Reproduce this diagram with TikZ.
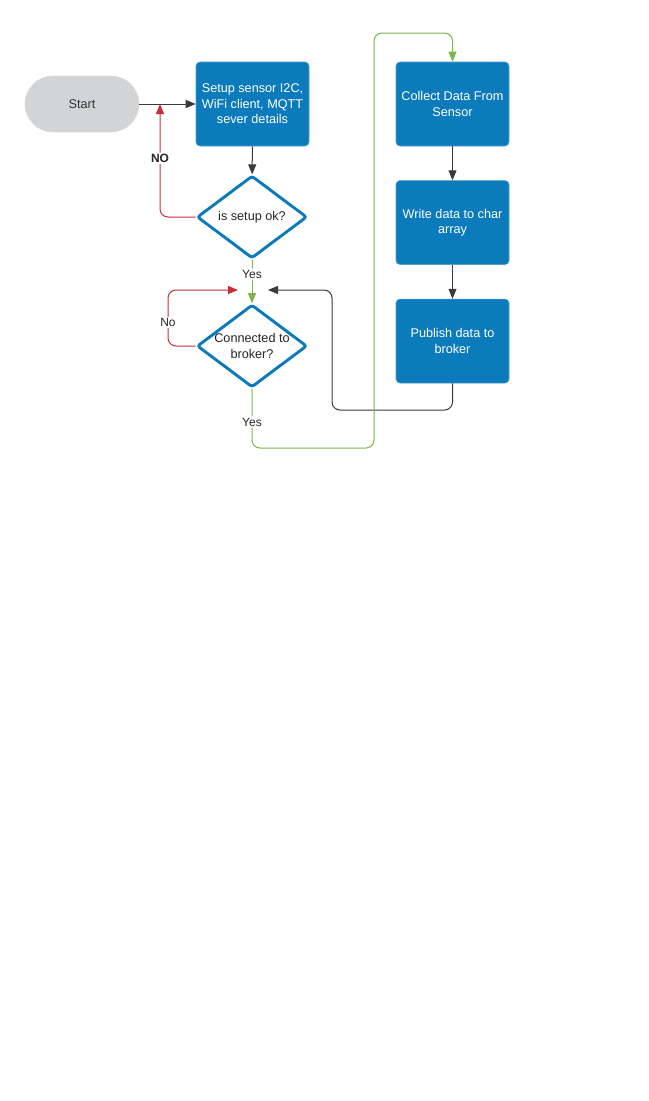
\documentclass[tikz,border=0pt]{standalone}
\usepackage{fontspec}
\setmainfont{Liberation Sans}
\usetikzlibrary{arrows.meta,positioning,shapes.geometric}
\definecolor{boxblue}{HTML}{0C7BBB}
\definecolor{startgray}{HTML}{D3D4D6}
\definecolor{nored}{HTML}{C92D39}
\definecolor{yesgreen}{HTML}{7AB648}
\definecolor{linegray}{HTML}{3A3A3A}

\begin{document}
\begin{tikzpicture}[x=0.75pt,y=-0.75pt,>={Triangle[length=7.5pt,width=6pt]},node distance=25.5pt,
box/.style={draw=boxblue!75!white,fill=boxblue,text=white,rounded corners=3pt,minimum width=84.75pt,minimum height=63pt,inner sep=1pt,align=center,font=\fontsize{9.5}{11.6}\selectfont},
term/.style={draw=black!15,fill=startgray,text=black!80,rounded corners=21pt,minimum width=85.5pt,minimum height=42pt,font=\fontsize{9.5}{11.6}\selectfont},
decision/.style={diamond,draw=boxblue,line width=2.2pt,fill=white,minimum width=82.5pt,minimum height=62pt,inner sep=0pt,rounded corners=2pt},
dtext/.style={align=center,text=black!85,font=\fontsize{9.5}{11.6}\selectfont},
flow/.style={->,line width=0.75pt,linegray,rounded corners=6pt},
no/.style={flow,nored},
yes/.style={flow,yesgreen},
tag/.style={fill=white,inner sep=1pt,text=black!85,font=\fontsize{9}{10}\selectfont}]
\useasboundingbox (0,0) rectangle (649,1101);
\node[term] (start) at (82,104) {Start};
\node[box] (setup) at (252.5,104) {Setup sensor I2C,\\WiFi client, MQTT\\sever details};
\node[decision,label={[dtext]center:is setup ok?}] (setupok) at (252,217) {};
\node[decision,label={[dtext]center:Connected to\\broker?}] (broker) at (252,346) {};
\node[box] (collect) at (452.5,104) {Collect Data From\\Sensor};
\node[box,below=of collect] (write) {Write data to char\\array};
\node[box,below=of write] (publish) {Publish data to\\broker};
\coordinate (retry) at (160,104);
\coordinate (loopl) at (168,290);
\coordinate (joinl) at (238,290);
\coordinate (joinr) at (268,290);
\coordinate (back) at (332,410);
\coordinate (gbot) at (374,448);
\coordinate (gtop) at (374,33);
\draw[flow] (start) -- (setup);
\draw[flow] (setup) -- (setupok);
\draw[no] (setupok.west) -| node[tag,pos=0.76] (lno) {\textbf{NO}} (retry);
\draw[yes] (setupok.south) -- node[tag,pos=0.33] (lyes) {Yes} (broker.north);
\draw[no] (broker.west) -| node[tag,pos=0.71] (lno2) {No} (loopl) -- (joinl);
\draw[flow] (publish.south) |- (back) |- (joinr);
\draw[yes] (broker.south) |- node[tag,pos=0.28] (lyes2) {Yes} (gbot) -- (gtop) -| (collect.north);
\draw[flow] (collect) -- (write);
\draw[flow] (write) -- (publish);
\end{tikzpicture}
\end{document}
